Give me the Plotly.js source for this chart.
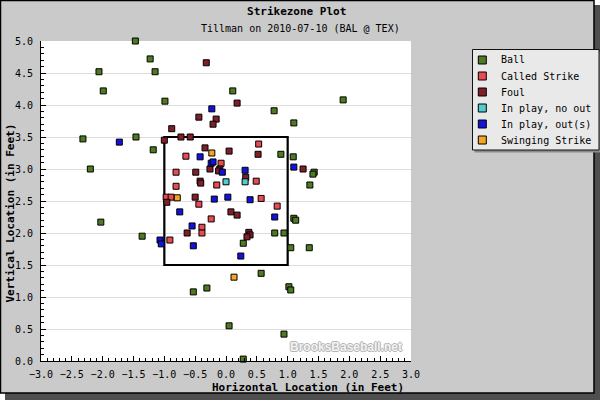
<!DOCTYPE html>
<html>
<head>
<meta charset="utf-8">
<script src="https://cdn.plot.ly/plotly-3.0.1.min.js"></script>
<style>html,body{margin:0;padding:0;background:#fff;}#chart{width:600px;height:400px;}</style>
</head>
<body>
<div id="chart"></div>
<script>
// ---- Data (feet) ----
const categories = ['Ball', 'Called Strike', 'Foul', 'In play, no out', 'In play, out(s)', 'Swinging Strike'];
const colors = ['#4d7a22', '#ea4a52', '#801f28', '#55cccc', '#1212dd', '#f4a622'];

const ballX = [-1.47, -1.23, -2.06, -1.15, -1.99, -0.99, -2.32, -1.46, -1.18, -2.20, 0.11, 1.90, 0.78, 1.10, 0.89, 1.09, 1.43, 1.41, 1.36, 1.10, 1.13, 0.79, 0.94, 0.28, 1.05, 1.35, -2.03, -1.36, -0.53, -0.31, 0.05, 0.57, 1.02, 1.05, 0.94, 0.28];
const ballY = [5.00, 4.72, 4.52, 4.52, 4.22, 4.06, 3.47, 3.50, 3.30, 3.00, 4.22, 4.08, 3.91, 3.72, 3.23, 3.19, 2.95, 2.92, 2.75, 2.23, 2.20, 2.00, 2.00, 1.84, 1.77, 1.77, 2.17, 1.95, 1.08, 1.14, 0.55, 1.37, 1.16, 1.11, 0.42, 0.03];

const calledX = [-0.65, -0.08, -0.81, -0.15, -0.81, -0.97, -0.89, 0.53, 0.49, 0.57, -0.44, 0.83, -0.24, -0.39, -0.39, -0.91];
const calledY = [3.20, 3.09, 2.95, 2.75, 2.73, 2.56, 2.56, 3.39, 2.81, 2.54, 2.45, 2.42, 2.22, 2.09, 2.00, 1.89];

const foulX = [-0.32, -0.44, -0.16, -0.21, -0.88, -1.00, -0.73, -0.58, -0.34, 0.05, -0.26, -0.10, -0.12, -0.49, -0.42, -0.41, -0.50, 0.18, 0.52, 1.25, 0.32, -0.96, 0.08, 0.18, -0.63, 0.37, 0.39, 0.34];
const foulY = [4.66, 3.81, 3.78, 3.70, 3.63, 3.45, 3.50, 3.50, 3.33, 3.28, 3.00, 3.00, 2.97, 2.95, 2.81, 2.78, 2.56, 4.03, 3.23, 3.00, 2.87, 2.48, 2.33, 2.28, 2.00, 2.01, 1.97, 1.94];

const noOutX = [0.00, 0.31];
const noOutY = [2.80, 2.80];

const outX = [-0.23, -1.73, -0.42, -0.24, -0.21, -0.06, -0.19, 0.03, 1.10, 0.31, 0.39, -0.75, 0.79, -0.55, -1.07, -1.05, -0.53, 0.24];
const outY = [3.94, 3.42, 3.19, 3.09, 3.11, 2.95, 2.53, 2.56, 3.03, 2.98, 2.52, 2.33, 2.25, 2.11, 1.89, 1.83, 1.80, 1.64];

const swingX = [-0.23, -0.79, 0.13];
const swingY = [3.25, 2.55, 1.31];

const xTickVals = [-3, -2.5, -2, -1.5, -1, -0.5, 0, 0.5, 1, 1.5, 2, 2.5, 3];
const yTickVals = [0, 0.5, 1, 1.5, 2, 2.5, 3, 3.5, 4, 4.5, 5];
const zone = {left: -1, right: 1, bottom: 1.5, top: 3.5};

const seriesX = [ballX, calledX, foulX, noOutX, outX, swingX];
const seriesY = [ballY, calledY, foulY, noOutY, outY, swingY];

// ---- Layout helpers (pixel -> paper) ----
const L = 41, T = 41, W = 370, H = 320;
const px = v => (v - L) / W;
const py = v => (T + H - v) / H;
const mono = 'DejaVu Sans Mono';

const traces = categories.map((name, i) => ({
  type: 'scatter', mode: 'markers', name: name,
  x: seriesX[i], y: seriesY[i],
  marker: {symbol: 'square', size: 6, color: colors[i], line: {color: '#000', width: 1}},
  showlegend: false, hoverinfo: 'skip', cliponaxis: false
}));

const shapes = [
  // frame shadow and border
  {type: 'rect', xref: 'paper', yref: 'paper', x0: px(594), x1: px(600), y0: py(5), y1: py(400), fillcolor: '#4f4f4f', line: {width: 0}, layer: 'above'},
  {type: 'rect', xref: 'paper', yref: 'paper', x0: px(5), x1: px(600), y0: py(393), y1: py(400), fillcolor: '#4f4f4f', line: {width: 0}, layer: 'above'},
  {type: 'rect', xref: 'paper', yref: 'paper', x0: px(594), x1: px(600), y0: py(0), y1: py(5), fillcolor: '#ffffff', line: {width: 0}, layer: 'above'},
  {type: 'rect', xref: 'paper', yref: 'paper', x0: px(0), x1: px(5), y0: py(393), y1: py(400), fillcolor: '#ffffff', line: {width: 0}, layer: 'above'},
  {type: 'rect', xref: 'paper', yref: 'paper', x0: px(0.5), x1: px(594), y0: py(0.5), y1: py(393), line: {color: '#000', width: 1.5}, layer: 'above'},
  // strike zone
  {type: 'rect', xref: 'x', yref: 'y', x0: zone.left, x1: zone.right, y0: zone.bottom, y1: zone.top, line: {color: '#000', width: 2.2}, layer: 'between'},
  // legend box
  {type: 'rect', xref: 'paper', yref: 'paper', x0: px(474.5), x1: px(601), y0: py(52), y1: py(152.5), fillcolor: '#8c8c8c', line: {width: 0}, layer: 'above'},
  {type: 'rect', xref: 'paper', yref: 'paper', x0: px(472.5), x1: px(599), y0: py(49.5), y1: py(150), fillcolor: '#e9e9e9', line: {color: '#111', width: 1}, layer: 'above'}
];

const annotations = [
  {text: 'Tillman on 2010-07-10 (BAL @ TEX)', xref: 'paper', yref: 'paper', x: px(300), y: py(29), xanchor: 'center', yanchor: 'middle', showarrow: false, font: {family: mono, size: 10, color: '#000'}},
  {text: 'Horizontal Location (in Feet)', xref: 'paper', yref: 'paper', x: px(307.5), y: py(387), xanchor: 'center', yanchor: 'middle', showarrow: false, font: {family: mono, size: 11, weight: 'bold', color: '#000'}},
  {text: 'Vertical Location (in Feet)', xref: 'paper', yref: 'paper', x: px(9.5), y: py(213), xanchor: 'center', yanchor: 'middle', textangle: -90, showarrow: false, font: {family: mono, size: 11, weight: 'bold', color: '#000'}},
  {text: 'BrooksBaseball.net', xref: 'paper', yref: 'paper', x: px(345.5), y: py(347), xanchor: 'center', yanchor: 'middle', showarrow: false,
   font: {family: 'Liberation Sans', size: 12, weight: 'bold', color: '#f3f3f3', shadow: '1px 0 0 #b4b4b4, -1px 0 0 #b4b4b4, 0 1px 0 #b4b4b4, 0 -1px 0 #b4b4b4'}}
];

// manual legend built from categories
categories.forEach((name, i) => {
  const rowY = 60 + 16 * i;
  shapes.push({type: 'rect', xref: 'paper', yref: 'paper', x0: px(478.3), x1: px(486.3), y0: py(rowY - 4), y1: py(rowY + 4), fillcolor: colors[i], line: {color: '#000', width: 1}, layer: 'above'});
  annotations.push({text: name, xref: 'paper', yref: 'paper', x: px(498.5), y: py(rowY), xanchor: 'left', yanchor: 'middle', showarrow: false, font: {family: mono, size: 10, color: '#000'}});
});

const layout = {
  width: 600, height: 400,
  margin: {l: L, r: 600 - L - W, t: T, b: 400 - T - H, pad: 0},
  paper_bgcolor: '#cacaca', plot_bgcolor: '#ffffff',
  showlegend: false,
  title: {text: 'Strikezone Plot', xref: 'container', yref: 'container', x: 296.7 / 600, y: 1 - 11 / 400, xanchor: 'center', yanchor: 'middle',
          font: {family: mono, size: 11, weight: 'bold', color: '#000'}},
  xaxis: {range: [-3, 3], tickvals: xTickVals, tickformat: '.1f', ticks: 'inside', ticklen: 5, tickwidth: 1, tickcolor: '#000',
          minor: {dtick: 0.1, ticks: 'inside', ticklen: 3, tickcolor: '#000', showgrid: false},
          showline: true, linecolor: '#000', linewidth: 1, showgrid: false, zeroline: false, fixedrange: true,
          tickfont: {family: mono, size: 10, color: '#000'}, ticklabelstandoff: 4},
  yaxis: {range: [0, 5], tickvals: yTickVals, tickformat: '.1f', ticks: 'inside', ticklen: 5, tickwidth: 1, tickcolor: '#000',
          minor: {dtick: 0.1, ticks: 'inside', ticklen: 3, tickcolor: '#000', showgrid: false},
          showline: true, linecolor: '#000', linewidth: 1, showgrid: true, gridcolor: '#dcdcdc', gridwidth: 1, zeroline: false, fixedrange: true,
          tickfont: {family: mono, size: 10, color: '#000'}, ticklabelstandoff: 5},
  shapes: shapes,
  annotations: annotations,
  hovermode: false
};

Plotly.newPlot('chart', traces, layout, {staticPlot: true, displayModeBar: false});
</script>
</body>
</html>
